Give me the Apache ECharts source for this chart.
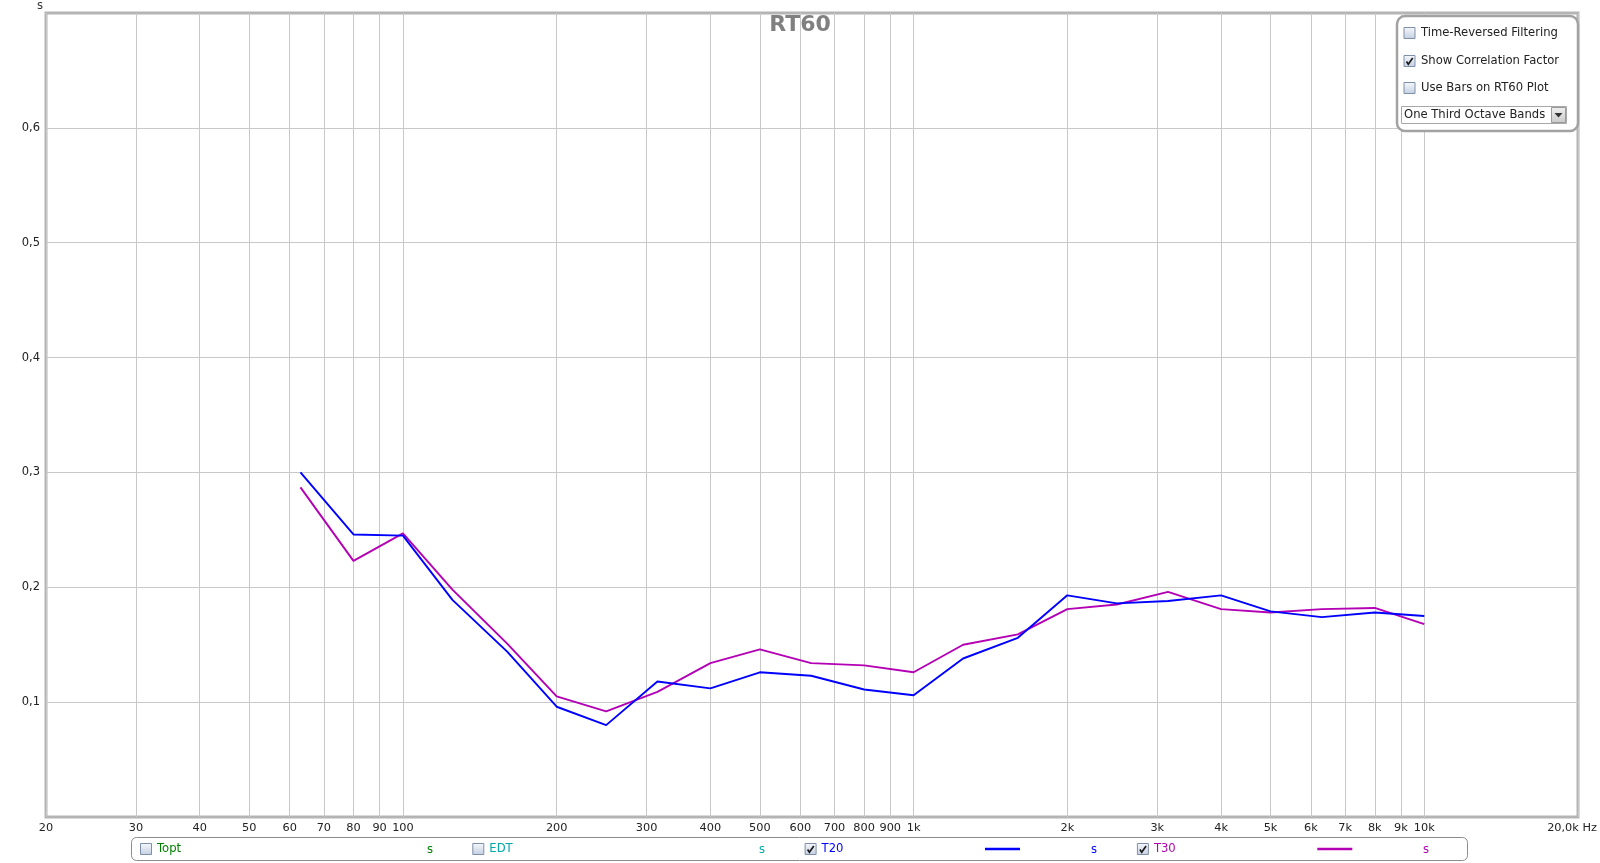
<!DOCTYPE html>
<html><head><meta charset="utf-8">
<script src="https://cdn.jsdelivr.net/npm/echarts@6/dist/echarts.min.js"></script>
<style>html,body{margin:0;padding:0;background:#fff;}#c{width:1600px;height:863px;}</style>
</head><body><div id="c"></div>
<script>
// ---- data ----
const bands = [63,80,100,125,160,200,250,315,400,500,630,800,1000,1250,1600,2000,2500,3150,4000,5000,6300,8000,10000];
const t20 = [0.300,0.246,0.245,0.189,0.144,0.096,0.080,0.118,0.112,0.126,0.123,0.111,0.106,0.138,0.156,0.193,0.186,0.188,0.193,0.179,0.174,0.178,0.175];
const t30 = [0.287,0.223,0.247,0.198,0.151,0.105,0.092,0.109,0.134,0.146,0.134,0.132,0.126,0.150,0.159,0.181,0.185,0.196,0.181,0.178,0.181,0.182,0.168];
const xTickValues = [20,30,40,50,60,70,80,90,100,200,300,400,500,600,700,800,900,1000,2000,3000,4000,5000,6000,7000,8000,9000,10000,20000];
const xTickLabels = ['20','30','40','50','60','70','80','90','100','200','300','400','500','600','700','800','900','1k','2k','3k','4k','5k','6k','7k','8k','9k','10k','20,0k Hz'];
const yTickValues = [0.1,0.2,0.3,0.4,0.5,0.6];
const yTickLabels = ['0,1','0,2','0,3','0,4','0,5','0,6'];
const legendNames = ['Topt','EDT','T20','T30'];
const legendColors = ['#008000','#00a8a8','#0000ff','#b400b4'];
const legendChecked = [false,false,true,true];
const legendHasLine = [false,false,true,true];
const panelOptions = ['Time-Reversed Filtering','Show Correlation Factor','Use Bars on RT60 Plot'];
const panelChecked = [false,true,false];
const bandMode = 'One Third Octave Bands';

// ---- helpers ----
const FONT = '"DejaVu Sans", Verdana, sans-serif';
const UI_FONT = '11.6px ' + FONT;
function lookup(vals, labels, v){
  for (let i=0;i<vals.length;i++){ if (Math.abs(vals[i]-v) <= Math.abs(vals[i])*1e-6+1e-9) return labels[i]; }
  return '';
}
function boxGrad(){
  return new echarts.graphic.LinearGradient(0,0,0,1,[{offset:0,color:'#f7f9fc'},{offset:1,color:'#c3cfe2'}]);
}
function checkbox(x,y,checked){
  const els = [{type:'rect', shape:{x:x+0.5,y:y+0.5,width:11,height:11}, style:{fill:boxGrad(), stroke:'#7f8fa8', lineWidth:1}, z:100}];
  if (checked) els.push({type:'polyline', shape:{points:[[x+3,y+6.5],[x+4.8,y+9.2],[x+9.2,y+3]]}, style:{stroke:'#1a1a1a', lineWidth:1.7, fill:null}, z:101});
  return els;
}
function txt(s,x,y,color,align){
  return {type:'text', x:x, y:y, style:{text:s, font:UI_FONT, fill:color, align:align||'left', verticalAlign:'middle', textAlign:align||'left', textVerticalAlign:'middle'}, z:101};
}

// ---- graphic overlay ----
let g = [];
g.push(txt('s',40,6,'#333','center'));
// top-right panel
g.push({type:'rect', shape:{x:1397,y:16,width:181,height:115,r:8}, style:{fill:'#fff', stroke:'#a2a2a2', lineWidth:2.5}, z:99});
const rowY = [33,61,88];
panelOptions.forEach((s,i)=>{
  g = g.concat(checkbox(1403.5,rowY[i]-6,panelChecked[i]));
  g.push(txt(s,1421,rowY[i],'#222'));
});
g.push({type:'rect', shape:{x:1401.5,y:106.5,width:165,height:17}, style:{fill:'#fff', stroke:'#a8a8a8', lineWidth:1}, z:100});
g.push(txt(bandMode,1404,115,'#222'));
g.push({type:'rect', shape:{x:1551.5,y:107.5,width:14,height:15}, style:{fill:new echarts.graphic.LinearGradient(0,0,0,1,[{offset:0,color:'#f0f0f0'},{offset:1,color:'#c8c8c8'}]), stroke:'#9a9a9a', lineWidth:1}, z:101});
g.push({type:'polygon', shape:{points:[[1554.5,113],[1562.5,113],[1558.5,117.5]]}, style:{fill:'#333'}, z:102});
// bottom legend bar
g.push({type:'rect', shape:{x:131.5,y:837.5,width:1336,height:23,r:5}, style:{fill:'#fff', stroke:'#8c8c8c', lineWidth:1}, z:99});
legendNames.forEach((n,i)=>{
  const bx = 140 + 332.3*i;
  g = g.concat(checkbox(bx,843,legendChecked[i]));
  g.push(txt(n,bx+17,849,legendColors[i]));
  if (legendHasLine[i]) g.push({type:'line', shape:{x1:985+332.3*(i-2),y1:849,x2:1020+332.3*(i-2),y2:849}, style:{stroke:legendColors[i], lineWidth:2.5}, z:101});
  g.push(txt('s',430+332*i,850,legendColors[i],'center'));
});

const chart = echarts.init(document.getElementById('c'), null, {renderer:'canvas'});
chart.setOption({
  animation:false,
  backgroundColor:'#fff',
  title:{text:'RT60', left:'center', top:14, padding:0, textStyle:{fontFamily:FONT, fontSize:22, fontWeight:'bold', color:'#808080'}},
  grid:{left:46, right:22, top:13, bottom:46, show:true, borderColor:'#b4b4b4', borderWidth:3, backgroundColor:'#fff'},
  xAxis:{
    type:'log', logBase:10, min:20, max:20000,
    axisLine:{show:false},
    axisTick:{show:false, customValues:xTickValues},
    axisLabel:{customValues:xTickValues, margin:6, color:'#222', fontFamily:FONT, fontSize:11.3,
      formatter:(v)=>{ const l = lookup(xTickValues,xTickLabels,v); return v>=19999 ? '{e|'+l+'}' : l; },
      rich:{e:{padding:[0,12,0,0], color:'#222', fontFamily:FONT, fontSize:11.3}}},
    splitLine:{show:true, lineStyle:{color:'#c8c8c8', width:1}},
    minorTick:{show:false}, minorSplitLine:{show:false}
  },
  yAxis:{
    type:'value', min:0, max:0.7,
    axisLine:{show:false},
    axisTick:{show:false, customValues:yTickValues},
    axisLabel:{customValues:yTickValues, margin:6, color:'#222', fontFamily:FONT, fontSize:11.5,
      formatter:(v)=>lookup(yTickValues,yTickLabels,v)},
    splitLine:{show:true, lineStyle:{color:'#c8c8c8', width:1}}
  },
  series:[
    {name:'T20', type:'line', symbol:'none', data:bands.map((f,i)=>[f,t20[i]]), lineStyle:{color:'#0000ff', width:1.9}, itemStyle:{color:'#0000ff'}, z:3},
    {name:'T30', type:'line', symbol:'none', data:bands.map((f,i)=>[f,t30[i]]), lineStyle:{color:'#b400b4', width:1.9}, itemStyle:{color:'#b400b4'}, z:2}
  ],
  graphic:g
});
</script>
</body></html>
